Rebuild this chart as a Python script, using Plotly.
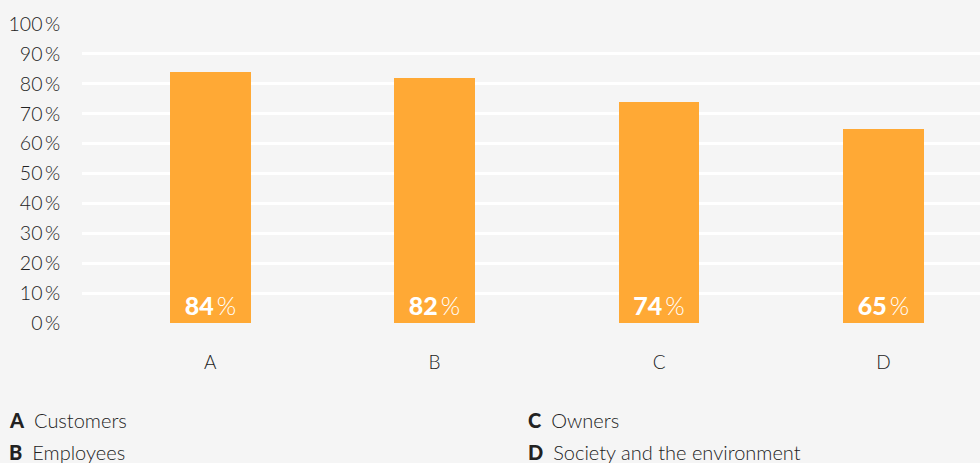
import plotly.graph_objects as go

categories = ["A", "B", "C", "D"]
values = [84, 82, 74, 65]
legend_keys = ["A", "B", "C", "D"]
legend_names = ["Customers", "Employees", "Owners", "Society and the environment"]
y_ticks = list(range(0, 101, 10))
y_tick_labels = [f"{v}\u2009%" for v in y_ticks]

FONT = "Lato, 'Open Sans', sans-serif"
TXT = "#222222"

fig = go.Figure()
fig.add_trace(go.Bar(
    x=list(range(len(categories))),
    y=values,
    width=0.36,
    marker=dict(color="#FFA935", line=dict(width=0)),
    texttemplate="<span style='font-weight:900'>%{y}</span>\u2009%",
    textposition="inside",
    insidetextanchor="start",
    textangle=0,
    textfont=dict(family=FONT, size=25, color="white", weight=300),
    cliponaxis=False,
    hoverinfo="skip",
))

annotations = []
pos = [(-0.0835, -0.324), (-0.0835, -0.431), (0.4945, -0.324), (0.4945, -0.431)]
for (k, n), (ax, ay) in zip(zip(legend_keys, legend_names), pos):
    annotations.append(dict(
        x=ax, y=ay, xref="paper", yref="paper", xanchor="left", yanchor="middle",
        text=f"<span style='font-weight:900'>{k}</span>\u2002{n}", showarrow=False,
        font=dict(family=FONT, size=20, color=TXT, weight=300),
    ))

fig.update_layout(
    width=980, height=463,
    margin=dict(l=82, r=0, t=24, b=140),
    paper_bgcolor="#F5F5F5", plot_bgcolor="#F5F5F5",
    showlegend=False,
    bargap=0,
    font=dict(family=FONT, color=TXT),
    uniformtext=dict(minsize=10, mode="show"),
    xaxis=dict(
        range=[-0.571, 3.43],
        tickmode="array", tickvals=list(range(len(categories))), ticktext=categories,
        showgrid=False, zeroline=False, showline=False,
        tickfont=dict(family=FONT, size=19, color=TXT, weight=300),
        ticks="outside", ticklen=22, tickcolor="rgba(0,0,0,0)",
    ),
    yaxis=dict(
        range=[0, 100],
        tickmode="array", tickvals=y_ticks, ticktext=y_tick_labels,
        showgrid=True, gridcolor="white", gridwidth=2.5,
        zeroline=False, showline=False,
        tickfont=dict(family=FONT, size=19.5, color=TXT, weight=300),
        ticks="outside", ticklen=17, tickcolor="rgba(0,0,0,0)",
    ),
    annotations=annotations,
)

fig.write_html("out.html", config={"displayModeBar": False},
               post_script="document.body.style.margin='0';document.body.style.overflow='hidden';")
